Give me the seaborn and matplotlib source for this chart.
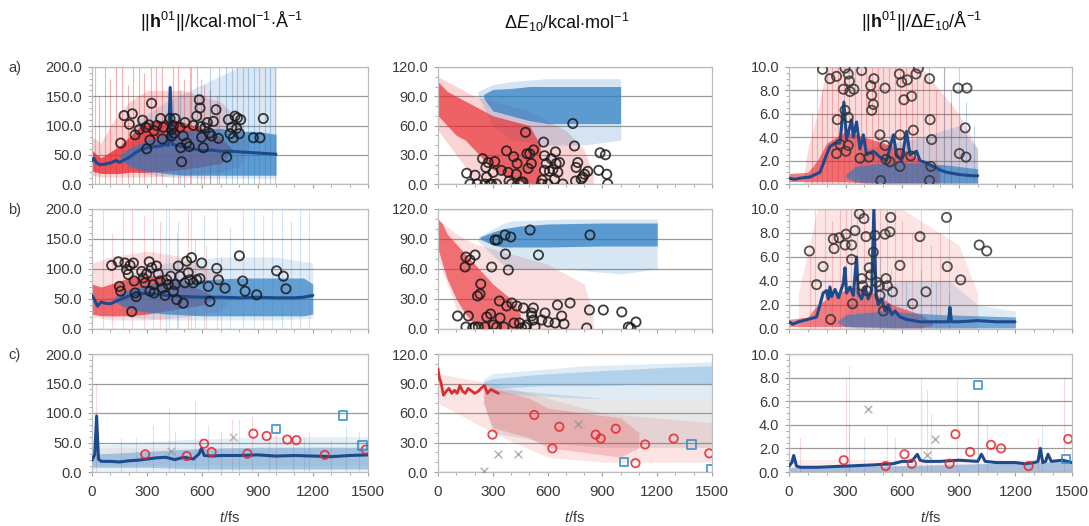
import matplotlib
matplotlib.use("Agg")
import matplotlib.pyplot as plt
from matplotlib.ticker import MultipleLocator, FormatStrFormatter
import seaborn as sns

# ---------------------------------------------------------------- data
# time grid labels
X_TICKS = [0, 300, 600, 900, 1200, 1500]

# ensemble envelopes: (t / fs, lower, upper)
RED_CORE_A1 = [(0, 22, 58), (25, 20, 50), (50, 18, 45), (100, 18, 55), (150, 18, 65), (200, 20, 80),
               (250, 20, 95), (300, 20, 105), (400, 22, 110), (500, 25, 105), (600, 30, 95), (700, 35, 80),
               (760, 55, 60)]
RED_HAZE_A1 = [(0, 15, 80), (50, 12, 70), (100, 12, 100), (200, 12, 140), (300, 12, 160), (500, 15, 160),
               (700, 20, 140), (800, 30, 110), (850, 60, 70)]
BLUE_CORE_A1 = [(150, 45, 50), (200, 30, 60), (300, 22, 75), (400, 18, 85), (500, 15, 90), (600, 15, 95),
                (700, 15, 95), (800, 15, 90), (900, 15, 90), (1000, 15, 85)]
BLUE_HAZE_A1 = [(200, 40, 60), (250, 20, 110), (400, 12, 140), (600, 10, 170), (800, 10, 200), (1000, 10, 200)]

RED_CORE_A2 = [(0, 70, 105), (25, 65, 100), (50, 60, 95), (100, 50, 90), (150, 45, 85), (200, 35, 80),
               (250, 25, 75), (300, 15, 70), (400, 5, 65), (500, 0, 60), (560, 0, 40)]
RED_HAZE_A2 = [(0, 55, 110), (100, 30, 100), (200, 5, 90), (300, 0, 85), (500, 0, 75), (600, 0, 65),
               (700, 0, 55), (800, 0, 35), (850, 0, 10)]
BLUE_CORE_A2 = [(250, 88, 92), (300, 75, 97), (400, 70, 98), (500, 65, 100), (600, 62, 100), (800, 62, 100),
                (1000, 62, 100)]
BLUE_HAZE_A2 = [(220, 90, 95), (300, 60, 102), (400, 45, 105), (600, 40, 108), (800, 40, 108), (1000, 45, 108)]

RED_CORE_A3 = [(0, 0.2, 0.9), (100, 0.2, 1.0), (150, 0.2, 2.0), (200, 0.2, 3.5), (300, 0.2, 4.5),
               (400, 0.1, 4.0), (500, 0.1, 3.5), (600, 0.1, 3.0), (700, 0.1, 2.0), (800, 0.1, 1.5)]
RED_HAZE_A3 = [(80, 0, 1), (100, 0, 3), (150, 0, 6), (200, 0, 10), (700, 0, 10), (900, 0, 6), (1000, 0, 3)]
BLUE_CORE_A3 = [(300, 0.6, 0.8), (350, 0.2, 1.5), (500, 0.1, 1.8), (700, 0.1, 1.8), (850, 0.1, 1.6),
                (1000, 0.1, 1.3)]
BLUE_HAZE_A3 = [(350, 0.5, 1.5), (400, 0, 3), (700, 0, 4), (900, 0, 5), (1000, 0, 3)]

RED_CORE_B1 = [(0, 25, 75), (50, 22, 70), (100, 22, 75), (200, 22, 85), (300, 25, 90), (400, 30, 85),
               (500, 35, 75), (600, 40, 65), (660, 50, 55)]
RED_HAZE_B1 = [(0, 20, 110), (100, 15, 120), (300, 15, 130), (500, 20, 120), (700, 30, 90), (760, 50, 60)]
BLUE_CORE_B1 = [(120, 50, 52), (150, 40, 60), (250, 30, 70), (400, 25, 80), (600, 22, 82), (800, 22, 85),
                (1000, 22, 85), (1150, 22, 85), (1200, 25, 75)]
BLUE_HAZE_B1 = [(150, 45, 55), (200, 20, 90), (400, 15, 110), (700, 15, 120), (1000, 15, 120), (1200, 18, 110)]

RED_CORE_B2 = [(0, 80, 110), (25, 65, 105), (50, 50, 95), (100, 30, 85), (150, 15, 75), (200, 5, 65),
               (250, 0, 55), (300, 0, 45), (400, 0, 30), (450, 0, 15)]
RED_HAZE_B2 = [(0, 70, 110), (100, 20, 95), (200, 0, 85), (400, 0, 75), (600, 0, 65), (800, 0, 45),
               (850, 0, 15)]
BLUE_CORE_B2 = [(230, 90, 92), (300, 84, 97), (350, 82, 100), (450, 82, 103), (600, 82, 105), (900, 83, 106),
                (1200, 83, 106)]
BLUE_HAZE_B2 = [(220, 88, 92), (350, 65, 105), (400, 60, 108), (700, 60, 110), (1000, 55, 110), (1200, 60, 110)]

RED_CORE_B3 = [(0, 0.2, 0.8), (100, 0.2, 1.0), (150, 0.2, 2.0), (250, 0.2, 3.0), (350, 0.2, 3.5),
               (450, 0.2, 3.0), (550, 0.1, 2.0), (700, 0.1, 1.2), (760, 0.3, 0.5)]
RED_HAZE_B3 = [(50, 0, 3), (150, 0, 10), (600, 0, 10), (900, 0, 7), (1000, 0, 3)]
BLUE_CORE_B3 = [(260, 0.5, 0.7), (300, 0.2, 1.2), (500, 0.1, 1.5), (800, 0.1, 1.2), (1200, 0.1, 1.0)]
BLUE_HAZE_B3 = [(300, 0.5, 1.0), (350, 0, 3), (600, 0, 4), (850, 0, 4), (1000, 0, 2), (1200, 0, 1.5)]

BLUE_CORE_C1 = [(0, 8, 30), (300, 8, 35), (600, 5, 40), (900, 5, 42), (1200, 5, 42), (1500, 5, 42)]
BLUE_HAZE_C1 = [(0, 3, 45), (500, 3, 55), (1000, 3, 60), (1500, 3, 60)]
RED_HAZE_C1 = [(0, 10, 40), (1500, 10, 40)]

RED_HAZE_C2 = [(0, 70, 100), (300, 40, 90), (600, 15, 75), (900, 10, 60), (1200, 10, 55), (1500, 10, 50)]
RED_CORE_C2 = [(250, 70, 85), (300, 45, 85), (400, 40, 80), (500, 35, 75), (600, 25, 65), (800, 20, 60),
               (1000, 15, 55), (1100, 25, 40)]
GRAY_HAZE_C2 = [(250, 70, 80), (300, 40, 85), (600, 30, 80), (900, 25, 75), (1200, 25, 75), (1500, 25, 75)]
BLUE_CORE_C2 = [(250, 88, 92), (300, 85, 95), (600, 88, 100), (900, 88, 103), (1200, 90, 106), (1500, 90, 108)]
BLUE_HAZE_C2 = [(250, 85, 95), (300, 80, 100), (800, 75, 108), (1500, 75, 112)]

BLUE_CORE_C3 = [(0, 0, 0.4), (500, 0, 0.5), (1000, 0, 0.7), (1500, 0, 0.9)]
RED_HAZE_C3 = [(0, 0, 1.0), (1500, 0, 1.0)]

# single-trajectory excursions: times and peak values
SPK_RED_A1_T = [15, 40, 70, 100, 130, 165, 195, 225, 255, 285, 320, 350, 380, 440, 470, 500, 530, 570, 610, 640, 680]
SPK_RED_A1_V = [200, 150, 200, 180, 200, 200, 170, 200, 200, 190, 200, 200, 200, 200, 200, 180, 200, 200, 170, 160, 150]
SPK_BLUE_A1_T = [480, 540, 590, 640, 690, 730, 760, 790, 820, 850, 880, 910, 940, 970, 995]
SPK_BLUE_A1_V = [160, 200, 180, 200, 200, 200, 200, 200, 200, 200, 200, 200, 200, 200, 200]
SPK_RED_A3_T = [120, 150, 175, 200, 230, 260, 290, 320, 350, 380, 410, 440, 470, 500, 530, 560, 590, 620, 650,
                680, 710, 740, 780, 820, 860]
SPK_RED_A3_V = [6, 10, 8, 10, 10, 10, 10, 10, 10, 10, 10, 10, 10, 10, 10, 10, 10, 10, 10, 10, 9, 10, 8, 10, 7]
SPK_BLUE_A3_T = [820, 860, 900, 940, 980]
SPK_BLUE_A3_V = [10, 8, 10, 7, 5]
SPK_RED_B1_T = [60, 110, 170, 220, 280, 330, 370, 420, 460, 520, 560, 620, 700]
SPK_RED_B1_V = [200, 160, 200, 200, 190, 200, 180, 200, 160, 200, 150, 140, 120]
SPK_BLUE_B1_T = [400, 470, 540, 610, 680, 750, 820, 880, 930, 980, 1030, 1080, 1130, 1180]
SPK_BLUE_B1_V = [200, 180, 200, 190, 200, 170, 200, 200, 190, 200, 200, 180, 200, 200]
SPK_RED_B3_T = [110, 140, 190, 230, 270, 300, 330, 360, 400, 440, 480, 520, 560, 600, 650, 700, 750, 800, 850]
SPK_RED_B3_V = [6, 10, 10, 9, 10, 10, 10, 10, 10, 10, 10, 10, 10, 9, 8, 10, 7, 8, 10]
SPK_BLUE_B3_T = [480, 540, 620, 700, 780, 850]
SPK_BLUE_B3_V = [6, 5, 4, 5, 4, 3]
SPK_RED_C1_T = [20, 160, 330, 420, 560, 700, 760, 870, 1000, 1090, 1180, 1300]
SPK_RED_C1_V = [150, 60, 80, 110, 120, 70, 90, 95, 80, 60, 70, 55]
SPK_BLUE_C1_T = [240, 450, 630, 800, 960, 1150, 1380, 1450]
SPK_BLUE_C1_V = [60, 70, 80, 90, 70, 60, 80, 70]
SPK_RED_C3_T = [60, 300, 320, 520, 560, 700, 730, 890, 1000, 1050, 1320, 1460]
SPK_RED_C3_V = [3, 8, 9, 4, 3, 8, 7, 8, 6, 4, 3, 8]
SPK_BLUE_C3_T = [320, 400, 750, 1000, 1340]
SPK_BLUE_C3_V = [4, 3, 5, 6, 4]

# ensemble averages
MEAN_A1_T = [0, 10, 25, 45, 70, 100, 130, 150, 175, 200, 230, 260, 300, 340, 370, 400, 415, 425, 435, 460, 500,
             550, 600, 650, 700, 750, 800, 850, 900, 950, 1000]
MEAN_A1_V = [40, 44, 36, 33, 34, 36, 40, 37, 41, 45, 52, 58, 62, 64, 65, 67, 66, 165, 68, 66, 63,
             60, 57, 58, 56, 56, 55, 54, 53, 52, 51]
MEAN_A3_T = [0, 30, 60, 111, 164, 199, 217, 244, 270, 291, 305, 332, 341, 358, 376, 394, 411, 447, 482, 517,
             553, 570, 597, 623, 641, 676, 694, 729, 765, 800, 835, 871, 906, 977, 1000]
MEAN_A3_V = [0.5, 0.4, 0.5, 0.6, 1.0, 2.5, 3.2, 3.5, 3.5, 7.0, 3.8, 5.5, 4.0, 5.3, 3.0, 4.2, 2.5, 2.8, 2.3, 2.0,
             4.2, 2.5, 2.0, 4.5, 2.5, 2.8, 2.0, 1.8, 1.5, 1.2, 1.0, 0.9, 0.8, 0.7, 0.7]
MEAN_B1_T = [0, 15, 30, 50, 70, 100, 130, 160, 200, 250, 300, 350, 400, 500, 600, 700, 800, 900, 1000, 1100,
             1150, 1200]
MEAN_B1_V = [56, 48, 38, 45, 43, 42, 46, 50, 55, 58, 60, 58, 56, 54, 53, 53, 52, 53, 52, 52, 53, 56]
MEAN_B3_T = [0, 20, 50, 100, 146, 164, 181, 199, 208, 217, 226, 244, 262, 288, 297, 305, 323, 341, 358, 367,
             385, 403, 420, 438, 450, 461, 473, 491, 509, 526, 544, 562, 588, 623, 694, 780, 845, 853, 861,
             900, 1000, 1100, 1198]
MEAN_B3_V = [0.6, 0.4, 0.6, 0.8, 1.0, 2.0, 3.0, 3.2, 2.5, 3.5, 2.7, 3.3, 2.6, 3.8, 5.1, 3.0, 3.5, 2.8, 6.0, 3.0,
             2.5, 3.5, 2.5, 3.2, 10.0, 3.0, 2.0, 2.5, 1.5, 2.0, 1.2, 1.5, 1.0, 0.8, 0.6, 0.6, 0.6, 1.8, 0.6,
             0.6, 0.7, 0.6, 0.6]
MEAN_C1_T = [0, 15, 25, 35, 50, 100, 150, 200, 250, 300, 350, 400, 450, 500, 550, 580, 595, 610, 650, 700, 800,
             900, 1000, 1100, 1200, 1300, 1400, 1500]
MEAN_C1_V = [20, 30, 95, 22, 18, 18, 17, 19, 20, 22, 24, 25, 21, 25, 22, 30, 40, 28, 27, 28, 28,
             29, 27, 28, 27, 26, 28, 29]
RED_C2_T = [0, 8, 15, 30, 45, 60, 75, 90, 105, 120, 135, 150, 165, 180, 200, 220, 240, 255, 270, 290, 310, 330]
RED_C2_V = [105, 95, 92, 78, 82, 85, 80, 83, 80, 88, 82, 80, 85, 83, 80, 82, 86, 88, 80, 84, 82, 80]
MEAN_C3_T = [0, 15, 25, 40, 60, 150, 300, 450, 550, 600, 650, 680, 695, 720, 800, 900, 1000, 1020, 1040, 1100,
             1200, 1250, 1300, 1320, 1332, 1345, 1360, 1373, 1390, 1450, 1500]
MEAN_C3_V = [0.5, 0.8, 1.4, 0.5, 0.4, 0.4, 0.5, 0.6, 0.7, 0.9, 0.9, 1.5, 1.0, 0.9, 0.9, 1.0, 0.9, 1.5, 0.9, 0.8,
             0.8, 0.7, 0.8, 0.9, 2.0, 0.8, 0.9, 1.5, 0.9, 1.0, 0.8]

# hopping points (t / fs, value)
HOP_A1 = [(156, 70), (174, 117), (219, 120), (203, 102), (234, 84), (257, 93), (275, 109), (292, 97), (297, 60),
          (310, 101), (315, 75), (324, 138), (337, 91), (352, 100), (373, 112), (382, 77), (388, 97), (424, 112),
          (433, 93), (433, 82), (442, 100), (446, 87), (451, 112), (478, 97), (482, 62), (487, 38), (496, 82),
          (505, 105), (514, 70), (529, 64), (551, 100), (569, 116), (583, 144), (587, 130), (590, 98), (596, 80),
          (605, 62), (614, 96), (627, 105), (638, 87), (651, 82), (660, 107), (674, 127), (687, 78), (732, 46),
          (741, 110), (750, 86), (759, 97), (768, 79), (777, 116), (786, 95), (790, 113), (801, 86), (808, 110),
          (877, 79), (913, 79), (931, 112)]
HOP_A2 = [(157, 11), (175, 0), (203, 9), (215, 0), (244, 26), (257, 0), (262, 17), (266, 7), (275, 22), (284, 0),
          (293, 0), (302, 12), (311, 23), (320, 0), (347, 14), (375, 34), (384, 12), (389, 3), (402, 0), (414, 28),
          (429, 10), (433, 21), (447, 0), (456, 2), (465, 2), (479, 53), (487, 31), (493, 16), (502, 31), (511, 21),
          (523, 35), (565, 0), (570, 4), (578, 43), (583, 14), (583, 29), (592, 21), (601, 0), (610, 13), (620, 26),
          (629, 15), (638, 5), (643, 33), (647, 21), (656, 12), (665, 22), (683, 0), (738, 62), (747, 39), (753, 3),
          (756, 17), (765, 22), (784, 5), (793, 7), (802, 10), (820, 13), (880, 14), (887, 32), (917, 30), (924, 10),
          (929, 0)]
HOP_A3 = [(178, 9.8), (217, 9.0), (252, 9.2), (256, 5.5), (252, 2.6), (270, 3.4), (288, 8.1), (297, 9.9),
          (297, 6.3), (302, 2.8), (314, 9.4), (314, 5.7), (320, 8.8), (323, 7.9), (344, 8.1), (314, 3.3),
          (376, 2.2), (385, 9.7), (424, 2.3), (433, 8.4), (438, 7.6), (438, 6.3), (447, 6.8), (450, 9.0),
          (482, 4.2), (486, 0.3), (509, 8.2), (509, 3.3), (514, 2.1), (535, 1.9), (585, 9.4), (588, 4.2),
          (588, 2.6), (588, 1.5), (597, 8.7), (609, 7.2), (627, 8.9), (645, 2.4), (650, 7.5), (659, 4.6),
          (673, 9.4), (686, 9.9), (745, 9.0), (748, 5.5), (752, 1.5), (756, 3.8), (745, 0.3), (896, 8.2),
          (903, 2.6), (943, 8.2), (934, 4.8), (938, 2.3)]
HOP_B1 = [(107, 106), (143, 112), (149, 71), (156, 63), (179, 110), (188, 99), (197, 91), (207, 106), (216, 29),
          (225, 110), (229, 80), (234, 60), (240, 54), (270, 96), (279, 85), (288, 77), (297, 92), (311, 112),
          (315, 63), (324, 102), (333, 74), (337, 60), (351, 105), (360, 92), (370, 80), (384, 68), (397, 56),
          (406, 82), (415, 74), (428, 88), (442, 63), (451, 74), (460, 49), (469, 105), (478, 88), (496, 43),
          (505, 77), (514, 113), (523, 94), (532, 82), (541, 119), (551, 77), (569, 82), (587, 84), (596, 110),
          (632, 71), (641, 46), (678, 101), (687, 82), (723, 68), (801, 122), (819, 80), (832, 63), (895, 57),
          (1003, 97), (1040, 88), (1054, 67)]
HOP_B2 = [(107, 13), (148, 62), (153, 72), (175, 69), (203, 74), (166, 13), (153, 2), (190, 1), (203, 2), (221, 2),
          (234, 45), (216, 33), (230, 35), (257, 2), (267, 12), (288, 15), (294, 62), (303, 4), (312, 89), (321, 2),
          (325, 89), (336, 28), (340, 11), (361, 2), (367, 94), (369, 75), (376, 23), (385, 59), (398, 92),
          (404, 26), (416, 6), (431, 23), (446, 6), (458, 1), (467, 21), (477, 2), (486, 4), (504, 99), (513, 16),
          (513, 13), (522, 9), (522, 21), (531, 2), (550, 74), (568, 9), (586, 16), (604, 7), (641, 6), (654, 24),
          (677, 13), (690, 5), (723, 26), (814, 1), (829, 19), (832, 94), (905, 19), (1006, 17), (1042, 2),
          (1055, 1), (1084, 7)]
HOP_B3 = [(108, 6.5), (146, 3.7), (181, 5.2), (221, 0.8), (235, 7.5), (239, 6.7), (266, 7.6), (297, 7.0),
          (302, 7.9), (332, 7.0), (332, 5.8), (337, 2.1), (350, 8.2), (373, 9.6), (385, 4.2), (390, 3.6),
          (397, 9.2), (408, 7.7), (411, 3.2), (425, 5.1), (433, 4.5), (447, 6.4), (456, 7.8), (465, 3.9),
          (479, 3.6), (482, 2.8), (500, 1.5), (509, 7.9), (514, 4.2), (521, 3.6), (535, 8.1), (539, 9.3),
          (549, 3.1), (588, 5.3), (655, 2.1), (694, 7.7), (726, 3.1), (835, 9.3), (839, 5.2), (910, 4.1),
          (1008, 7.0), (1048, 6.5)]

HOP_RED_C1 = [(289, 30), (515, 27), (609, 48), (650, 34), (844, 31), (877, 65), (949, 61), (1061, 55), (1111, 54),
              (1265, 29), (1487, 38)]
HOP_BLUE_C1 = [(999, 73), (1364, 96), (1470, 45)]
HOP_GRAY_C1 = [(430, 36), (768, 60)]
HOP_RED_C2 = [(298, 38), (527, 58), (626, 24), (664, 46), (863, 38), (891, 34), (973, 44), (1081, 9), (1134, 28),
              (1290, 34), (1485, 19)]
HOP_BLUE_C2 = [(1019, 10), (1387, 28), (1496, 3)]
HOP_GRAY_C2 = [(252, 1), (329, 18), (439, 18), (768, 49)]
HOP_RED_C3 = [(290, 1.0), (512, 0.5), (612, 1.5), (651, 0.7), (851, 0.7), (882, 3.2), (960, 1.7), (1071, 2.3),
              (1124, 2.0), (1270, 0.5), (1480, 2.8)]
HOP_BLUE_C3 = [(1000, 7.4), (1468, 1.1)]
HOP_GRAY_C3 = [(419, 5.3), (772, 2.8), (730, 1.4)]

TITLES = [r"$||\mathbf{h}^{01}||$/kcal$\cdot$mol$^{-1}$$\cdot$Å$^{-1}$",
          r"$\Delta E_{10}$/kcal$\cdot$mol$^{-1}$",
          r"$||\mathbf{h}^{01}||/\Delta E_{10}$/Å$^{-1}$"]
ROW_LABELS = ["a)", "b)", "c)"]
Y_LIMITS = [(0, 200, 50, 10), (0, 120, 30, 10), (0, 10, 2, 0.5)]

# ---------------------------------------------------------------- style
sns.set_theme(style="white")
plt.rcParams["font.family"] = ["Liberation Sans", "DejaVu Sans"]
plt.rcParams["mathtext.fontset"] = "custom"
plt.rcParams["mathtext.rm"] = "Liberation Sans"
plt.rcParams["mathtext.it"] = "Liberation Sans:italic"
plt.rcParams["mathtext.bf"] = "Liberation Sans:bold"

RED = "#e8262b"
BLUE = "#2a7cc2"
LBLUE = "#79b4dd"
NAVY = "#1d4a8c"
GRAY = "#8a8a8a"
TXT = "#3a3a3a"

fig = plt.figure(figsize=(10.89, 5.26), dpi=100)

COL_X = [(92, 368), (438, 712), (789, 1072)]
ROW_Y = [(67, 184), (209, 329), (354, 472)]
W, H = 1089, 526


def band(ax, rows, color, alpha, z=1):
    t, lo, hi = zip(*rows)
    ax.fill_between(t, lo, hi, color=color, alpha=alpha, lw=0, zorder=z)


def spikes(ax, times, tops, color, alpha, lw=0.8):
    ax.vlines(times, 0, tops, colors=color, alpha=alpha, lw=lw, zorder=1)


def hops(ax, pts, color, marker="o", s=44, lw=1.3, alpha=0.85):
    t, v = zip(*pts)
    if marker == "x":
        sns.scatterplot(x=list(t), y=list(v), ax=ax, marker="x", s=s, color=color, linewidth=lw,
                        alpha=alpha, zorder=5)
    else:
        sns.scatterplot(x=list(t), y=list(v), ax=ax, marker=marker, s=s, facecolor="none",
                        edgecolor=color, linewidth=lw, alpha=alpha, zorder=5)


def mean_line(ax, t, v, color=NAVY, lw=2.2):
    sns.lineplot(x=t, y=v, ax=ax, color=color, lw=lw, zorder=4, estimator=None, sort=False)


axes = {}
for r, (y0, y1) in enumerate(ROW_Y):
    for c, (x0, x1) in enumerate(COL_X):
        ax = fig.add_axes([x0 / W, (H - y1) / H, (x1 - x0) / W, (y1 - y0) / H])
        axes[(r, c)] = ax
        lo, hi, major, minor = Y_LIMITS[c]
        ax.set_xlim(0, 1500)
        ax.set_ylim(lo, hi)
        ax.yaxis.set_major_locator(MultipleLocator(major))
        ax.yaxis.set_minor_locator(MultipleLocator(minor))
        ax.yaxis.set_major_formatter(FormatStrFormatter("%.1f"))
        ax.set_xticks(X_TICKS)
        ax.xaxis.set_minor_locator(MultipleLocator(100))
        ax.grid(axis="y", which="major", color="#9a9a9a", lw=0.9)
        ax.grid(axis="x", visible=False)
        ax.set_axisbelow(True)
        for sp in ax.spines.values():
            sp.set_color("#bdbdbd")
            sp.set_linewidth(0.9)
        ax.tick_params(axis="both", which="both", direction="out", color="#a0a0a0",
                       bottom=True, left=True, labelcolor=TXT)
        ax.tick_params(axis="both", which="major", length=3, width=0.8)
        ax.tick_params(axis="both", which="minor", length=2, width=0.6)
        ax.tick_params(axis="y", labelsize=10.5, pad=4)
        ax.tick_params(axis="x", labelsize=11, pad=6)
        if r < 2:
            ax.set_xticklabels([])
            ax.set_xlabel("")
        else:
            ax.set_xticklabels([str(v) for v in X_TICKS])
            ax.set_xlabel(r"$t$/fs", fontsize=10.5, color=TXT, labelpad=8)
        ax.set_ylabel("")

# ---- row a
ax = axes[(0, 0)]
band(ax, RED_HAZE_A1, RED, 0.2)
band(ax, BLUE_HAZE_A1, BLUE, 0.17)
spikes(ax, SPK_RED_A1_T, SPK_RED_A1_V, RED, 0.35)
spikes(ax, SPK_BLUE_A1_T, SPK_BLUE_A1_V, BLUE, 0.35)
band(ax, RED_CORE_A1, RED, 0.75, 2)
band(ax, BLUE_CORE_A1, BLUE, 0.7, 2)
mean_line(ax, MEAN_A1_T, MEAN_A1_V)
hops(ax, HOP_A1, "#1a1a1a")

ax = axes[(0, 1)]
band(ax, RED_HAZE_A2, RED, 0.2)
band(ax, BLUE_HAZE_A2, BLUE, 0.2)
band(ax, RED_CORE_A2, RED, 0.65, 2)
band(ax, BLUE_CORE_A2, BLUE, 0.7, 2)
hops(ax, HOP_A2, "#1a1a1a")

ax = axes[(0, 2)]
band(ax, RED_HAZE_A3, RED, 0.17)
spikes(ax, SPK_RED_A3_T, SPK_RED_A3_V, RED, 0.3)
spikes(ax, SPK_BLUE_A3_T, SPK_BLUE_A3_V, BLUE, 0.3)
band(ax, BLUE_HAZE_A3, BLUE, 0.2)
band(ax, RED_CORE_A3, RED, 0.6, 2)
band(ax, BLUE_CORE_A3, BLUE, 0.65, 2)
mean_line(ax, MEAN_A3_T, MEAN_A3_V)
hops(ax, HOP_A3, "#333333")

# ---- row b
ax = axes[(1, 0)]
band(ax, RED_HAZE_B1, RED, 0.15)
band(ax, BLUE_HAZE_B1, BLUE, 0.15)
spikes(ax, SPK_RED_B1_T, SPK_RED_B1_V, RED, 0.2)
spikes(ax, SPK_BLUE_B1_T, SPK_BLUE_B1_V, BLUE, 0.2)
band(ax, RED_CORE_B1, RED, 0.65, 2)
band(ax, BLUE_CORE_B1, BLUE, 0.68, 2)
mean_line(ax, MEAN_B1_T, MEAN_B1_V)
hops(ax, HOP_B1, "#1a1a1a")

ax = axes[(1, 1)]
band(ax, RED_HAZE_B2, RED, 0.15)
band(ax, BLUE_HAZE_B2, BLUE, 0.18)
band(ax, RED_CORE_B2, RED, 0.6, 2)
band(ax, BLUE_CORE_B2, BLUE, 0.72, 2)
hops(ax, HOP_B2, "#1a1a1a")

ax = axes[(1, 2)]
band(ax, RED_HAZE_B3, RED, 0.12)
spikes(ax, SPK_RED_B3_T, SPK_RED_B3_V, RED, 0.22)
spikes(ax, SPK_BLUE_B3_T, SPK_BLUE_B3_V, BLUE, 0.25)
band(ax, BLUE_HAZE_B3, BLUE, 0.15)
band(ax, RED_CORE_B3, RED, 0.55, 2)
band(ax, BLUE_CORE_B3, BLUE, 0.6, 2)
mean_line(ax, MEAN_B3_T, MEAN_B3_V)
hops(ax, HOP_B3, "#333333")

# ---- row c
ax = axes[(2, 0)]
band(ax, RED_HAZE_C1, RED, 0.06)
band(ax, BLUE_HAZE_C1, LBLUE, 0.2)
spikes(ax, SPK_RED_C1_T, SPK_RED_C1_V, RED, 0.18)
spikes(ax, SPK_BLUE_C1_T, SPK_BLUE_C1_V, BLUE, 0.18)
band(ax, BLUE_CORE_C1, BLUE, 0.35, 2)
mean_line(ax, MEAN_C1_T, MEAN_C1_V)
hops(ax, HOP_RED_C1, RED, s=36)
hops(ax, HOP_BLUE_C1, "#2b8cc8", marker="s", s=36)
hops(ax, HOP_GRAY_C1, GRAY, marker="x", s=30, lw=1.0, alpha=0.6)

ax = axes[(2, 1)]
band(ax, RED_HAZE_C2, RED, 0.12)
band(ax, GRAY_HAZE_C2, GRAY, 0.2)
band(ax, BLUE_HAZE_C2, BLUE, 0.15)
band(ax, RED_CORE_C2, RED, 0.2, 2)
band(ax, BLUE_CORE_C2, LBLUE, 0.45, 2)
mean_line(ax, RED_C2_T, RED_C2_V, color="#d6312f", lw=2.0)
hops(ax, HOP_RED_C2, RED, s=36)
hops(ax, HOP_BLUE_C2, "#2b8cc8", marker="s", s=36)
hops(ax, HOP_GRAY_C2, GRAY, marker="x", s=30, lw=1.0, alpha=0.7)

ax = axes[(2, 2)]
band(ax, RED_HAZE_C3, RED, 0.08)
spikes(ax, SPK_RED_C3_T, SPK_RED_C3_V, RED, 0.18)
spikes(ax, SPK_BLUE_C3_T, SPK_BLUE_C3_V, BLUE, 0.18)
band(ax, BLUE_CORE_C3, BLUE, 0.4, 2)
mean_line(ax, MEAN_C3_T, MEAN_C3_V)
hops(ax, HOP_RED_C3, RED, s=36)
hops(ax, HOP_BLUE_C3, "#2b8cc8", marker="s", s=36)
hops(ax, HOP_GRAY_C3, GRAY, marker="x", s=30, lw=1.0, alpha=0.7)

# ---- column titles and row labels
for (x0, x1), title in zip(COL_X, TITLES):
    fig.text((x0 + x1) / 2 / W - 0.008, 1 - 22 / H, title, ha="center", va="center", fontsize=13, color="#111111")
for (y0, y1), lab in zip(ROW_Y, ROW_LABELS):
    fig.text(8 / W, 1 - (y0 + 1) / H, lab, ha="left", va="center", fontsize=10.5, color=TXT)

fig.savefig("out.png", dpi=100)
